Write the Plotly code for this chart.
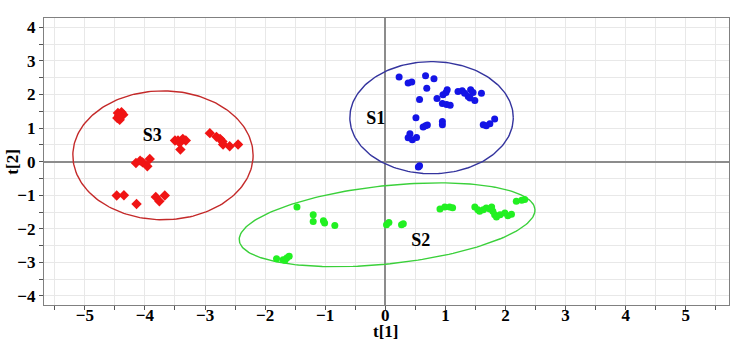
import numpy as np
import plotly.graph_objects as go

# ---- data ----
s1_x = [0.23, 0.38, 0.44, 0.67, 0.81, 0.69, 0.57, 0.86, 0.96, 1.01, 1.03, 0.95, 1.02, 1.08,
        1.21, 1.28, 1.32, 1.38, 1.42, 1.46, 1.49, 1.41, 1.60, 0.51, 0.63, 0.67, 0.70, 0.95, 0.95,
        0.41, 0.38, 0.45, 0.52, 1.63, 1.68, 1.74, 1.82, 0.57, 0.55]
s1_y = [2.52, 2.34, 2.37, 2.56, 2.47, 2.19, 1.85, 1.88, 1.99, 2.06, 2.14, 1.73, 1.70, 1.68,
        2.09, 2.11, 2.04, 1.94, 2.14, 2.06, 1.82, 1.90, 2.04, 1.31, 1.03, 1.07, 1.09, 1.20, 1.10,
        0.83, 0.71, 0.65, 0.72, 1.10, 1.07, 1.13, 1.27, -0.12, -0.16]

s2_x = [-1.47, -1.20, -1.20, -1.03, -1.01, -0.84, 0.02, 0.06, 0.27, 0.30, 0.91, 0.99, 1.07, 1.12,
        1.49, 1.54, 1.57, 1.68, 1.74, 1.79, 1.82, 1.85, 1.91, 1.99, 2.04, 2.10, 1.63, 1.77,
        2.18, 2.27, 2.32, -1.81, -1.70, -1.64, -1.60, -1.67]
s2_y = [-1.35, -1.58, -1.78, -1.76, -1.83, -1.90, -1.88, -1.81, -1.88, -1.85, -1.41, -1.35, -1.35, -1.37,
        -1.35, -1.43, -1.48, -1.38, -1.41, -1.48, -1.58, -1.65, -1.58, -1.53, -1.61, -1.57, -1.43, -1.35,
        -1.18, -1.15, -1.13, -2.89, -2.92, -2.87, -2.82, -2.94]

s3_x = [-4.45, -4.39, -4.36, -4.46, -4.42, -4.43, -2.92, -2.81, -2.75, -2.71, -2.70, -2.59, -2.45,
        -3.50, -3.45, -3.37, -3.32, -3.41, -3.42, -4.15, -4.08, -4.04, -3.96, -3.92,
        -4.47, -4.35, -4.14, -3.82, -3.76, -3.67]
s3_y = [1.45, 1.47, 1.40, 1.30, 1.25, 1.37, 0.85, 0.74, 0.68, 0.60, 0.51, 0.46, 0.51,
        0.63, 0.63, 0.68, 0.63, 0.36, 0.56, -0.04, 0.03, -0.02, -0.14, 0.08,
        -1.01, -1.00, -1.26, -1.05, -1.18, -1.01]

group_labels = ["S1", "S2", "S3"]
label_x = [-0.16, 0.59, -3.88]
label_y = [1.25, -2.37, 0.76]

# confidence ellipses: center, semi-axis vector a, semi-axis vector b (data units)
ell_s1 = dict(c=(0.77, 1.31), a=(1.36, 0.0), b=(0.0, 1.67))
ell_s2 = dict(c=(0.03, -1.88), a=(2.46, 0.47), b=(-0.069, 1.157))
ell_s3 = dict(c=(-3.70, 0.19), a=(1.50, 0.0), b=(0.0, 1.92))

x_ticks = [-5, -4, -3, -2, -1, 0, 1, 2, 3, 4, 5]
y_ticks = [-4, -3, -2, -1, 0, 1, 2, 3, 4]


def ellipse(e, n=200):
    t = np.linspace(0, 2 * np.pi, n)
    cx, cy = e["c"]
    ax, ay = e["a"]
    bx, by = e["b"]
    return cx + np.cos(t) * ax + np.sin(t) * bx, cy + np.cos(t) * ay + np.sin(t) * by


fig = go.Figure()

for e, col in [(ell_s1, "#34349e"), (ell_s2, "#3ad03a"), (ell_s3, "#c42a2a")]:
    ex, ey = ellipse(e)
    fig.add_trace(go.Scatter(x=ex, y=ey, mode="lines", line=dict(color=col, width=1.4),
                             hoverinfo="skip", showlegend=False))

fig.add_trace(go.Scatter(x=s1_x, y=s1_y, mode="markers",
                         marker=dict(symbol="circle", size=7, color="#1414e6"), showlegend=False))
fig.add_trace(go.Scatter(x=s2_x, y=s2_y, mode="markers",
                         marker=dict(symbol="circle", size=7, color="#22f022"), showlegend=False))
fig.add_trace(go.Scatter(x=s3_x, y=s3_y, mode="markers",
                         marker=dict(symbol="diamond", size=8, color="#f01414"), showlegend=False))

serif = "Liberation Serif, Times New Roman, serif"
fig.add_trace(go.Scatter(x=label_x, y=label_y, mode="text", text=group_labels,
                         textfont=dict(family=serif, size=18, color="black", weight="bold"),
                         showlegend=False, hoverinfo="skip"))

font = dict(family=serif, size=17, color="black", weight="bold")

axis_common = dict(ticks="outside", ticklen=4, tickcolor="#555",
                   showline=True, linecolor="#808080", linewidth=1.3, mirror=True,
                   showgrid=True, gridcolor="#e8e8e8", gridwidth=1,
                   zeroline=True, zerolinecolor="#8c8c8c", zerolinewidth=1.5,
                   minor=dict(dtick=0.5, ticks="outside", ticklen=4, tickcolor="#555",
                              showgrid=True, gridcolor="#e8e8e8"),
                   tickfont=font, automargin=False)

FIG_W, FIG_H = 738, 345
M_L, M_R, M_T, M_B = 44, 9, 18, 40
plot_w = FIG_W - M_L - M_R
plot_h = FIG_H - M_T - M_B

fig.update_layout(
    width=FIG_W, height=FIG_H,
    margin=dict(l=M_L, r=M_R, t=M_T, b=M_B),
    paper_bgcolor="white", plot_bgcolor="white",
    font=font,
    hovermode=False,
    xaxis=dict(range=[-5.68, 5.72], tickvals=x_ticks, ticklabelstandoff=-10, **axis_common),
    yaxis=dict(range=[-4.27, 4.28], tickvals=y_ticks, **axis_common),
    annotations=[
        dict(text="t[1]", x=0.0, xref="x", y=-27 / plot_h, yref="paper", showarrow=False, font=font,
             xanchor="center", yanchor="middle", borderpad=0),
        dict(text="t[2]", x=-31 / plot_w, xref="paper", y=0.0, yref="y", showarrow=False, font=font,
             textangle=-90, xanchor="center", yanchor="middle"),
    ],
)

# remove the default 8px page margin so the figure fills the window exactly
fig.write_html("out.html", config={"displayModeBar": False},
               post_script="document.body.style.margin='0px';")
